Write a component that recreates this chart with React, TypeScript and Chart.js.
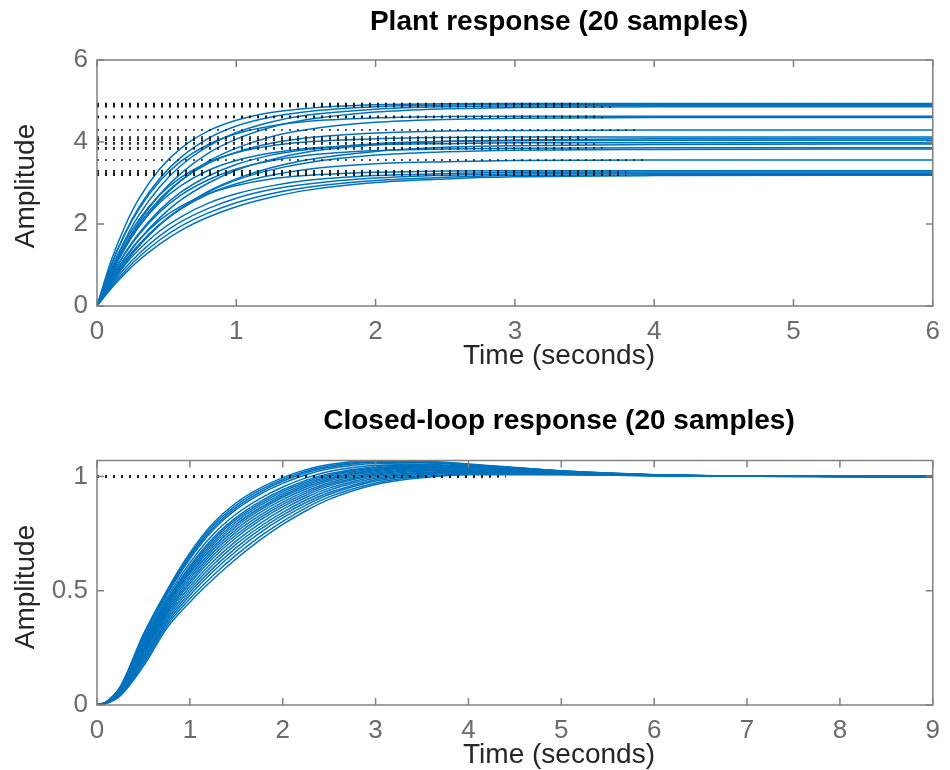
import React, { useEffect, useRef } from "react";
import { Chart, registerables } from "chart.js";

Chart.register(...registerables);

// ---------- text ----------
const plantTitle = "Plant response (20 samples)";
const loopTitle = "Closed-loop response (20 samples)";
const xAxisLabel = "Time (seconds)";
const yAxisLabel = "Amplitude";

// ---------- tick labels ----------
const plantXTicks = [0, 1, 2, 3, 4, 5, 6];
const plantYTicks = [0, 2, 4, 6];
const loopXTicks = [0, 1, 2, 3, 4, 5, 6, 7, 8, 9];
const loopYTicks = [0, 0.5, 1];

// ---------- plant step responses (20 samples) ----------
const plantTime = [0, 0.1, 0.2, 0.3, 0.45, 0.6, 0.8, 1.0, 1.25, 1.5, 2, 2.5, 3, 4, 6];
const plantResponses = [
  [0, 1.09, 1.94, 2.61, 3.34, 3.84, 4.27, 4.53, 4.72, 4.82, 4.91, 4.93, 4.94, 4.94, 4.94],
  [0, 0.98, 1.77, 2.4, 3.11, 3.62, 4.09, 4.39, 4.61, 4.74, 4.86, 4.9, 4.92, 4.92, 4.92],
  [0, 0.89, 1.61, 2.21, 2.9, 3.42, 3.9, 4.23, 4.49, 4.65, 4.8, 4.86, 4.88, 4.89, 4.89],
  [0, 0.81, 1.48, 2.04, 2.72, 3.23, 3.73, 4.07, 4.36, 4.54, 4.73, 4.81, 4.84, 4.86, 4.86],
  [0, 0.98, 1.75, 2.36, 3.04, 3.52, 3.94, 4.2, 4.39, 4.5, 4.59, 4.62, 4.63, 4.63, 4.63],
  [0, 0.76, 1.4, 1.93, 2.57, 3.05, 3.53, 3.85, 4.13, 4.3, 4.48, 4.55, 4.58, 4.6, 4.6],
  [0, 0.81, 1.46, 1.99, 2.61, 3.06, 3.48, 3.75, 3.97, 4.1, 4.22, 4.27, 4.28, 4.29, 4.29],
  [0, 0.87, 1.56, 2.1, 2.71, 3.13, 3.51, 3.74, 3.91, 4.0, 4.08, 4.11, 4.12, 4.12, 4.12],
  [0, 0.63, 1.15, 1.6, 2.15, 2.58, 3.0, 3.31, 3.57, 3.75, 3.93, 4.02, 4.05, 4.08, 4.08],
  [0, 0.71, 1.29, 1.77, 2.34, 2.77, 3.17, 3.45, 3.68, 3.81, 3.96, 4.01, 4.03, 4.04, 4.04],
  [0, 0.79, 1.43, 1.94, 2.52, 2.93, 3.31, 3.55, 3.73, 3.84, 3.93, 3.96, 3.98, 3.98, 3.98],
  [0, 0.56, 1.05, 1.46, 1.98, 2.38, 2.8, 3.1, 3.37, 3.56, 3.77, 3.87, 3.91, 3.94, 3.95],
  [0, 0.7, 1.27, 1.74, 2.29, 2.7, 3.08, 3.34, 3.54, 3.67, 3.79, 3.83, 3.85, 3.86, 3.86],
  [0, 0.57, 1.06, 1.47, 1.98, 2.37, 2.78, 3.07, 3.32, 3.49, 3.68, 3.76, 3.8, 3.82, 3.83],
  [0, 0.59, 1.09, 1.5, 1.99, 2.36, 2.73, 2.98, 3.19, 3.33, 3.47, 3.52, 3.55, 3.56, 3.56],
  [0, 0.66, 1.18, 1.61, 2.09, 2.43, 2.74, 2.94, 3.1, 3.18, 3.26, 3.29, 3.3, 3.3, 3.3],
  [0, 0.54, 1.0, 1.37, 1.83, 2.17, 2.51, 2.74, 2.93, 3.06, 3.18, 3.23, 3.26, 3.27, 3.27],
  [0, 0.5, 0.92, 1.27, 1.71, 2.05, 2.38, 2.63, 2.84, 2.97, 3.12, 3.19, 3.22, 3.24, 3.24],
  [0, 0.46, 0.85, 1.19, 1.61, 1.94, 2.27, 2.52, 2.74, 2.89, 3.06, 3.14, 3.18, 3.2, 3.21],
  [0, 0.42, 0.79, 1.11, 1.51, 1.84, 2.17, 2.42, 2.65, 2.82, 3.01, 3.1, 3.15, 3.18, 3.19],
];
const plantSteady = [4.94, 4.92, 4.89, 4.86, 4.63, 4.6, 4.29, 4.12, 4.08, 4.04, 3.98, 3.95, 3.86, 3.83, 3.56, 3.3, 3.27, 3.24, 3.21, 3.19];
const plantSteadyEnd = [3.5, 3.6, 3.4, 3.7, 3.6, 3.65, 3.9, 3.5, 3.55, 3.3, 3.4, 3.6, 3.63, 3.5, 3.95, 3.7, 3.8, 3.6, 3.75, 3.8];

// ---------- closed-loop step responses (20 samples) ----------
const loopTime = [0, 0.1, 0.25, 0.5, 0.75, 1, 1.25, 1.5, 1.75, 2, 2.25, 2.5, 3, 3.5, 4, 5, 6, 7, 9];
const loopResponses = [
  [0, 0.014, 0.08, 0.31, 0.5, 0.665, 0.795, 0.885, 0.948, 0.995, 1.03, 1.052, 1.07, 1.068, 1.055, 1.025, 1.008, 1.002, 1],
  [0, 0.014, 0.078, 0.304, 0.493, 0.656, 0.785, 0.875, 0.939, 0.987, 1.023, 1.046, 1.066, 1.065, 1.053, 1.024, 1.008, 1.002, 1],
  [0, 0.013, 0.077, 0.299, 0.487, 0.648, 0.775, 0.865, 0.93, 0.979, 1.016, 1.04, 1.062, 1.062, 1.051, 1.024, 1.008, 1.002, 1],
  [0, 0.013, 0.075, 0.293, 0.48, 0.639, 0.766, 0.856, 0.921, 0.97, 1.008, 1.034, 1.057, 1.059, 1.049, 1.023, 1.007, 1.002, 1],
  [0, 0.013, 0.072, 0.282, 0.467, 0.622, 0.746, 0.836, 0.902, 0.954, 0.994, 1.022, 1.049, 1.053, 1.046, 1.022, 1.007, 1.002, 1],
  [0, 0.012, 0.07, 0.274, 0.457, 0.609, 0.731, 0.821, 0.889, 0.942, 0.983, 1.012, 1.043, 1.049, 1.043, 1.021, 1.007, 1.002, 1],
  [0, 0.012, 0.068, 0.268, 0.451, 0.601, 0.722, 0.812, 0.88, 0.934, 0.976, 1.006, 1.039, 1.046, 1.041, 1.02, 1.007, 1.002, 1],
  [0, 0.012, 0.066, 0.262, 0.444, 0.592, 0.712, 0.802, 0.871, 0.925, 0.969, 1.0, 1.034, 1.043, 1.039, 1.019, 1.006, 1.002, 1],
  [0, 0.011, 0.065, 0.257, 0.437, 0.583, 0.702, 0.792, 0.861, 0.917, 0.962, 0.994, 1.03, 1.04, 1.037, 1.019, 1.006, 1.002, 1],
  [0, 0.011, 0.063, 0.251, 0.431, 0.575, 0.692, 0.782, 0.852, 0.909, 0.954, 0.988, 1.026, 1.037, 1.035, 1.018, 1.006, 1.002, 1],
  [0, 0.011, 0.061, 0.244, 0.422, 0.564, 0.68, 0.77, 0.841, 0.899, 0.945, 0.981, 1.021, 1.034, 1.033, 1.017, 1.006, 1.002, 1],
  [0, 0.01, 0.059, 0.237, 0.414, 0.553, 0.668, 0.758, 0.829, 0.888, 0.936, 0.973, 1.015, 1.03, 1.031, 1.016, 1.005, 1.002, 1],
  [0, 0.01, 0.057, 0.23, 0.406, 0.542, 0.655, 0.745, 0.818, 0.878, 0.927, 0.965, 1.01, 1.026, 1.028, 1.015, 1.005, 1.001, 1],
  [0, 0.01, 0.055, 0.223, 0.398, 0.532, 0.643, 0.733, 0.807, 0.868, 0.918, 0.958, 1.005, 1.023, 1.026, 1.015, 1.005, 1.001, 1],
  [0, 0.009, 0.053, 0.215, 0.388, 0.519, 0.628, 0.718, 0.793, 0.856, 0.908, 0.949, 0.999, 1.018, 1.023, 1.013, 1.005, 1.001, 1],
  [0, 0.009, 0.05, 0.206, 0.378, 0.506, 0.614, 0.704, 0.779, 0.843, 0.897, 0.94, 0.992, 1.014, 1.02, 1.012, 1.004, 1.001, 1],
  [0, 0.008, 0.048, 0.198, 0.368, 0.493, 0.599, 0.689, 0.766, 0.831, 0.886, 0.93, 0.986, 1.01, 1.017, 1.011, 1.004, 1.001, 1],
  [0, 0.008, 0.046, 0.19, 0.358, 0.48, 0.584, 0.674, 0.752, 0.819, 0.875, 0.921, 0.98, 1.005, 1.015, 1.01, 1.004, 1.001, 1],
  [0, 0.007, 0.043, 0.18, 0.347, 0.465, 0.567, 0.657, 0.736, 0.804, 0.863, 0.911, 0.972, 1.0, 1.011, 1.009, 1.003, 1.001, 1],
  [0, 0.007, 0.04, 0.17, 0.335, 0.45, 0.55, 0.64, 0.72, 0.79, 0.85, 0.9, 0.965, 0.995, 1.008, 1.008, 1.003, 1.001, 1],
];
const loopSteady = [1, 1, 1, 1, 1, 1, 1, 1, 1, 1, 1, 1, 1, 1, 1, 1, 1, 1, 1, 1];
const loopSteadyEnd = [4.4, 4.2, 4.1, 4.3, 3.9, 4.0, 4.35, 4.15, 3.8, 4.25, 4.05, 3.95, 4.4, 4.1, 3.85, 4.2, 4.3, 3.9, 4.0, 4.4];

const FONT = '"Liberation Sans", Arial, Helvetica, sans-serif';
const BLUE = "#0072BD";
const TICK_COLOR = "#6b6b6b";
const BOX_COLOR = "#808080";

function buildDatasets(time: number[], responses: number[][], steady: number[], steadyEnd: number[]) {
  const curves = responses.map((r, i) => ({
    label: `sample ${i + 1}`,
    data: time.map((t, j) => ({ x: t, y: r[j] })),
    borderColor: BLUE,
    borderWidth: 1.5,
    pointRadius: 0,
    cubicInterpolationMode: "monotone" as const,
    fill: false,
    order: 2,
  }));
  const lines = steady.map((v, i) => ({
    label: `steady ${i + 1}`,
    data: [
      { x: 0, y: v },
      { x: steadyEnd[i], y: v },
    ],
    borderColor: "#1a1a1a",
    borderWidth: 1.5,
    borderDash: [2, 6],
    pointRadius: 0,
    fill: false,
    order: 1,
  }));
  return [...curves, ...lines];
}

const framePlugin = {
  id: "frame",
  afterDraw(chart: any, _args: any, opts: any) {
    const { ctx, chartArea: a, scales } = chart;
    ctx.save();
    ctx.strokeStyle = BOX_COLOR;
    ctx.lineWidth = 1.5;
    ctx.strokeRect(a.left, a.top, a.right - a.left, a.bottom - a.top);
    const tl = 7;
    ctx.beginPath();
    scales.x.ticks.forEach((t: any) => {
      const px = scales.x.getPixelForValue(t.value);
      ctx.moveTo(px, a.bottom);
      ctx.lineTo(px, a.bottom - tl);
      ctx.moveTo(px, a.top);
      ctx.lineTo(px, a.top + tl);
    });
    scales.y.ticks.forEach((t: any) => {
      const py = scales.y.getPixelForValue(t.value);
      ctx.moveTo(a.left, py);
      ctx.lineTo(a.left + tl, py);
      ctx.moveTo(a.right, py);
      ctx.lineTo(a.right - tl, py);
    });
    ctx.stroke();

    ctx.textAlign = "center";
    ctx.textBaseline = "middle";
    ctx.fillStyle = "#000";
    ctx.font = `bold 28px ${FONT}`;
    ctx.fillText(opts.title, opts.labelX, opts.titleY);

    ctx.fillStyle = "#262626";
    ctx.font = `28px ${FONT}`;
    ctx.fillText(opts.xLabel, opts.labelX, opts.xLabelY);

    ctx.translate(opts.yLabelX, opts.yLabelY);
    ctx.rotate(-Math.PI / 2);
    ctx.fillText(opts.yLabel, 0, 0);
    ctx.restore();
  },
};

function makeConfig(p: {
  time: number[];
  responses: number[][];
  steady: number[];
  steadyEnd: number[];
  xMax: number;
  yMax: number;
  xTicks: number[];
  yTicks: number[];
  padTop: number;
  xAxisHeight: number;
  title: string;
  titleY: number;
  xLabelY: number;
  yLabelY: number;
}) {
  return {
    type: "line" as const,
    data: { datasets: buildDatasets(p.time, p.responses, p.steady, p.steadyEnd) },
    plugins: [framePlugin],
    options: {
      responsive: false,
      animation: false as const,
      events: [],
      layout: { padding: { top: p.padTop, right: 10, left: 0, bottom: 0 } },
      plugins: {
        legend: { display: false },
        tooltip: { enabled: false },
        title: { display: false },
        frame: {
          title: p.title,
          xLabel: xAxisLabel,
          yLabel: yAxisLabel,
          labelX: 559,
          titleY: p.titleY,
          xLabelY: p.xLabelY,
          yLabelX: 26,
          yLabelY: p.yLabelY,
        },
      },
      scales: {
        x: {
          type: "linear" as const,
          min: 0,
          max: p.xMax,
          grid: { display: false, drawTicks: false },
          border: { display: false },
          afterBuildTicks: (s: any) => {
            s.ticks = p.xTicks.map((v) => ({ value: v }));
          },
          afterFit: (s: any) => {
            s.height = p.xAxisHeight;
          },
          ticks: {
            padding: 10,
            color: TICK_COLOR,
            font: { family: FONT, size: 26 },
            maxRotation: 0,
            autoSkip: false,
            callback: (v: any) => String(v),
          },
        },
        y: {
          type: "linear" as const,
          min: 0,
          max: p.yMax,
          grid: { display: false, drawTicks: false },
          border: { display: false },
          afterBuildTicks: (s: any) => {
            s.ticks = p.yTicks.map((v) => ({ value: v }));
          },
          afterFit: (s: any) => {
            s.width = 97;
          },
          ticks: {
            padding: 9,
            color: TICK_COLOR,
            font: { family: FONT, size: 26 },
            autoSkip: false,
            callback: (v: any) => String(v),
          },
        },
      },
    },
  };
}

function Panel({ config, top }: { config: any; top: number }) {
  const ref = useRef<HTMLCanvasElement | null>(null);
  useEffect(() => {
    if (!ref.current) return;
    const chart = new Chart(ref.current, config);
    return () => chart.destroy();
  }, []);
  return (
    <canvas
      ref={ref}
      width={950}
      height={385}
      style={{ position: "absolute", left: 0, top, width: 950, height: 385 }}
    />
  );
}

const plantConfig = makeConfig({
  time: plantTime,
  responses: plantResponses,
  steady: plantSteady,
  steadyEnd: plantSteadyEnd,
  xMax: 6,
  yMax: 6,
  xTicks: plantXTicks,
  yTicks: plantYTicks,
  padTop: 60,
  xAxisHeight: 79,
  title: plantTitle,
  titleY: 22,
  xLabelY: 356,
  yLabelY: 186,
});

const loopConfig = makeConfig({
  time: loopTime,
  responses: loopResponses,
  steady: loopSteady,
  steadyEnd: loopSteadyEnd,
  xMax: 9,
  yMax: 1.07,
  xTicks: loopXTicks,
  yTicks: loopYTicks,
  padTop: 75.5,
  xAxisHeight: 65,
  title: loopTitle,
  titleY: 36,
  xLabelY: 370,
  yLabelY: 202,
});

export default function App() {
  return (
    <div
      style={{
        position: "fixed",
        left: 0,
        top: 0,
        width: 950,
        height: 770,
        background: "#fff",
        overflow: "hidden",
      }}
    >
      <Panel config={plantConfig} top={0} />
      <Panel config={loopConfig} top={385} />
    </div>
  );
}
